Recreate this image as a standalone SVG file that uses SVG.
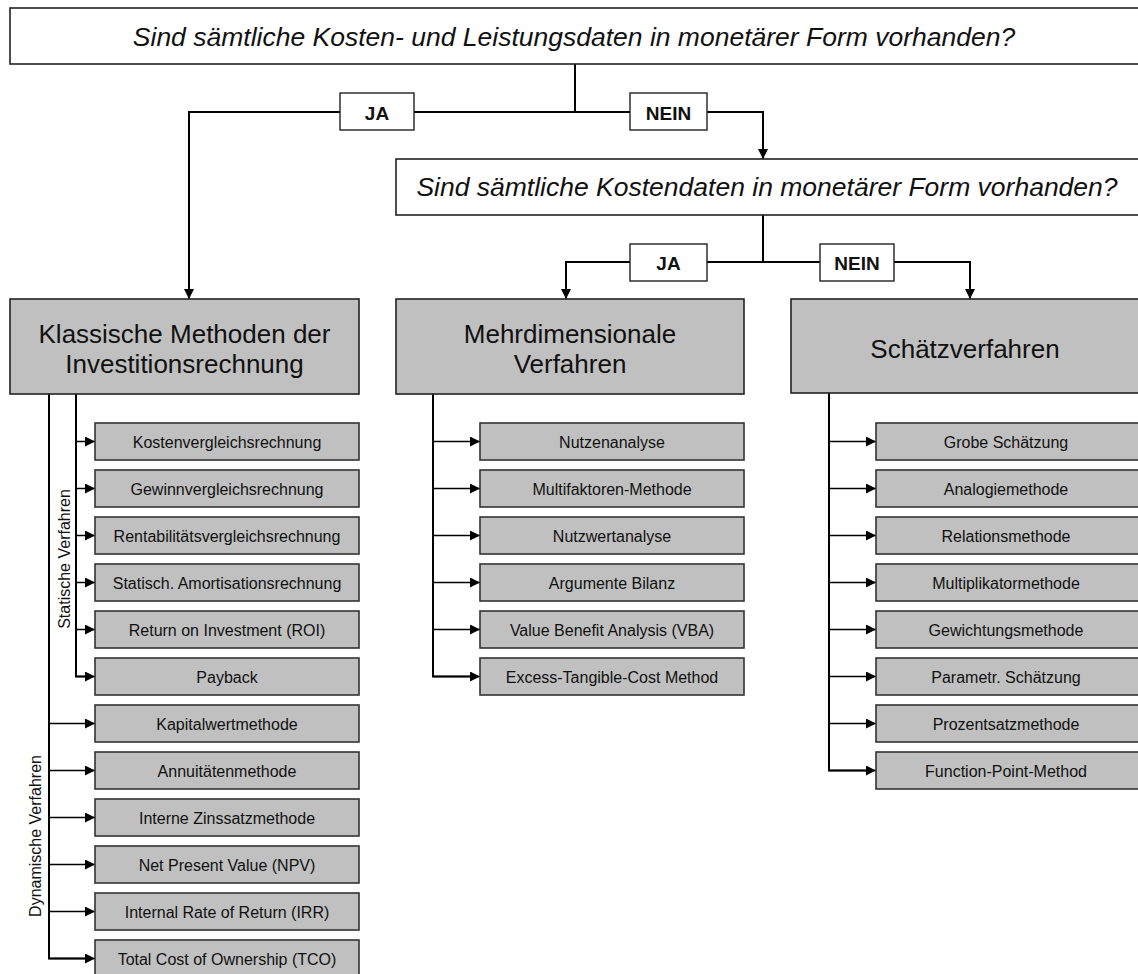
<svg xmlns="http://www.w3.org/2000/svg" width="1138" height="974" viewBox="0 0 1138 974">
  <style>
    text { font-family: "Liberation Sans", Arial, sans-serif; fill: #111; }
    .q { fill: #fff; stroke: #222; stroke-width: 1.6; }
    .q-t { font-size: 26.5px; font-style: italic; text-anchor: middle; }
    .lbl { fill: #fff; stroke: #222; stroke-width: 1.4; }
    .lbl-t { font-size: 19px; font-weight: bold; text-anchor: middle; }
    .cat { fill: #c0c0c0; stroke: #222; stroke-width: 1.6; }
    .cat-t { font-size: 26px; text-anchor: middle; }
    .item { fill: #c0c0c0; stroke: #333; stroke-width: 1.6; }
    .item-t { font-size: 16px; text-anchor: middle; }
    .side-t { font-size: 16px; text-anchor: middle; }
    .trunk { fill: none; stroke: #000; stroke-width: 2; }
    .branch { fill: none; stroke: #000; stroke-width: 1.5; }
  </style>
  <defs>
    <marker id="arrow" viewBox="0 0 10 10" refX="10" refY="5" markerWidth="10" markerHeight="10" markerUnits="userSpaceOnUse" orient="auto">
      <path d="M0,0 L10,5 L0,10 Z" fill="#000"/>
    </marker>
  </defs>

  <!-- connectors -->
  <g id="connectors">
    <!-- first decision -->
    <path class="trunk" d="M575,64 V112"/>
    <path class="trunk" d="M340,112 H189 V299" marker-end="url(#arrow)"/>
    <path class="trunk" d="M414,112 H630"/>
    <path class="trunk" d="M707,112 H763 V159" marker-end="url(#arrow)"/>
    <!-- second decision -->
    <path class="trunk" d="M763,215 V262"/>
    <path class="trunk" d="M630,262 H566 V299" marker-end="url(#arrow)"/>
    <path class="trunk" d="M707,262 H820"/>
    <path class="trunk" d="M894,262 H970 V299" marker-end="url(#arrow)"/>

    <!-- classical methods: static branch -->
    <path class="trunk" d="M76,394 V676.5 H86"/>
    <path class="branch" d="M76,441.5 H95" marker-end="url(#arrow)"/>
    <path class="branch" d="M76,488.5 H95" marker-end="url(#arrow)"/>
    <path class="branch" d="M76,535.5 H95" marker-end="url(#arrow)"/>
    <path class="branch" d="M76,582.5 H95" marker-end="url(#arrow)"/>
    <path class="branch" d="M76,629.5 H95" marker-end="url(#arrow)"/>
    <path class="branch" d="M76,676.5 H95" marker-end="url(#arrow)"/>
    <!-- classical methods: dynamic branch -->
    <path class="trunk" d="M49,394 V958.5 H86"/>
    <path class="branch" d="M49,723.5 H95" marker-end="url(#arrow)"/>
    <path class="branch" d="M49,770.5 H95" marker-end="url(#arrow)"/>
    <path class="branch" d="M49,817.5 H95" marker-end="url(#arrow)"/>
    <path class="branch" d="M49,864.5 H95" marker-end="url(#arrow)"/>
    <path class="branch" d="M49,911.5 H95" marker-end="url(#arrow)"/>
    <path class="branch" d="M49,958.5 H95" marker-end="url(#arrow)"/>

    <!-- multidimensional methods -->
    <path class="trunk" d="M433,394 V676.5 H470"/>
    <path class="branch" d="M433,441.5 H480" marker-end="url(#arrow)"/>
    <path class="branch" d="M433,488.5 H480" marker-end="url(#arrow)"/>
    <path class="branch" d="M433,535.5 H480" marker-end="url(#arrow)"/>
    <path class="branch" d="M433,582.5 H480" marker-end="url(#arrow)"/>
    <path class="branch" d="M433,629.5 H480" marker-end="url(#arrow)"/>
    <path class="branch" d="M433,676.5 H480" marker-end="url(#arrow)"/>

    <!-- estimation methods -->
    <path class="trunk" d="M829,393 V770.5 H866"/>
    <path class="branch" d="M829,441.5 H876" marker-end="url(#arrow)"/>
    <path class="branch" d="M829,488.5 H876" marker-end="url(#arrow)"/>
    <path class="branch" d="M829,535.5 H876" marker-end="url(#arrow)"/>
    <path class="branch" d="M829,582.5 H876" marker-end="url(#arrow)"/>
    <path class="branch" d="M829,629.5 H876" marker-end="url(#arrow)"/>
    <path class="branch" d="M829,676.5 H876" marker-end="url(#arrow)"/>
    <path class="branch" d="M829,723.5 H876" marker-end="url(#arrow)"/>
    <path class="branch" d="M829,770.5 H876" marker-end="url(#arrow)"/>
  </g>

  <!-- decisions -->
  <g id="q1">
    <rect class="q" x="10" y="8" width="1140" height="56"/>
    <text class="q-t" x="574" y="46">Sind sämtliche Kosten- und Leistungsdaten in monetärer Form vorhanden?</text>
  </g>
  <g id="q1-ja">
    <rect class="lbl" x="340" y="93" width="74" height="37"/>
    <text class="lbl-t" x="377" y="120">JA</text>
  </g>
  <g id="q1-nein">
    <rect class="lbl" x="630" y="93" width="77" height="37"/>
    <text class="lbl-t" x="668.5" y="120">NEIN</text>
  </g>
  <g id="q2">
    <rect class="q" x="396" y="159" width="760" height="56"/>
    <text class="q-t" x="767" y="196">Sind sämtliche Kostendaten in monetärer Form vorhanden?</text>
  </g>
  <g id="q2-ja">
    <rect class="lbl" x="630" y="244" width="77" height="37"/>
    <text class="lbl-t" x="668.5" y="270">JA</text>
  </g>
  <g id="q2-nein">
    <rect class="lbl" x="820" y="244" width="74" height="37"/>
    <text class="lbl-t" x="857" y="270">NEIN</text>
  </g>

  <!-- categories -->
  <g id="cat-klassisch">
    <rect class="cat" x="10" y="299" width="349" height="95"/>
    <text class="cat-t" x="184.5" y="343">Klassische Methoden der</text>
    <text class="cat-t" x="184.5" y="373">Investitionsrechnung</text>
  </g>
  <g id="cat-mehrdim">
    <rect class="cat" x="396" y="299" width="348" height="95"/>
    <text class="cat-t" x="570" y="343">Mehrdimensionale</text>
    <text class="cat-t" x="570" y="373">Verfahren</text>
  </g>
  <g id="cat-schaetz">
    <rect class="cat" x="791" y="299" width="360" height="94"/>
    <text class="cat-t" x="965" y="358">Schätzverfahren</text>
  </g>

  <!-- group labels -->
  <g id="label-statisch">
    <text class="side-t" transform="translate(70,559) rotate(-90)">Statische Verfahren</text>
  </g>
  <g id="label-dynamisch">
    <text class="side-t" transform="translate(41,836) rotate(-90)">Dynamische Verfahren</text>
  </g>

  <!-- classical method items -->
  <g id="k1"><rect class="item" x="95" y="423" width="264" height="37"/><text class="item-t" x="227" y="448">Kostenvergleichsrechnung</text></g>
  <g id="k2"><rect class="item" x="95" y="470" width="264" height="37"/><text class="item-t" x="227" y="495">Gewinnvergleichsrechnung</text></g>
  <g id="k3"><rect class="item" x="95" y="517" width="264" height="37"/><text class="item-t" x="227" y="542">Rentabilitätsvergleichsrechnung</text></g>
  <g id="k4"><rect class="item" x="95" y="564" width="264" height="37"/><text class="item-t" x="227" y="589">Statisch. Amortisationsrechnung</text></g>
  <g id="k5"><rect class="item" x="95" y="611" width="264" height="37"/><text class="item-t" x="227" y="636">Return on Investment (ROI)</text></g>
  <g id="k6"><rect class="item" x="95" y="658" width="264" height="37"/><text class="item-t" x="227" y="683">Payback</text></g>
  <g id="k7"><rect class="item" x="95" y="705" width="264" height="37"/><text class="item-t" x="227" y="730">Kapitalwertmethode</text></g>
  <g id="k8"><rect class="item" x="95" y="752" width="264" height="37"/><text class="item-t" x="227" y="777">Annuitätenmethode</text></g>
  <g id="k9"><rect class="item" x="95" y="799" width="264" height="37"/><text class="item-t" x="227" y="824">Interne Zinssatzmethode</text></g>
  <g id="k10"><rect class="item" x="95" y="846" width="264" height="37"/><text class="item-t" x="227" y="871">Net Present Value (NPV)</text></g>
  <g id="k11"><rect class="item" x="95" y="893" width="264" height="37"/><text class="item-t" x="227" y="918">Internal Rate of Return (IRR)</text></g>
  <g id="k12"><rect class="item" x="95" y="940" width="264" height="37"/><text class="item-t" x="227" y="965">Total Cost of Ownership (TCO)</text></g>

  <!-- multidimensional items -->
  <g id="m1"><rect class="item" x="480" y="423" width="264" height="37"/><text class="item-t" x="612" y="448">Nutzenanalyse</text></g>
  <g id="m2"><rect class="item" x="480" y="470" width="264" height="37"/><text class="item-t" x="612" y="495">Multifaktoren-Methode</text></g>
  <g id="m3"><rect class="item" x="480" y="517" width="264" height="37"/><text class="item-t" x="612" y="542">Nutzwertanalyse</text></g>
  <g id="m4"><rect class="item" x="480" y="564" width="264" height="37"/><text class="item-t" x="612" y="589">Argumente Bilanz</text></g>
  <g id="m5"><rect class="item" x="480" y="611" width="264" height="37"/><text class="item-t" x="612" y="636">Value Benefit Analysis (VBA)</text></g>
  <g id="m6"><rect class="item" x="480" y="658" width="264" height="37"/><text class="item-t" x="612" y="683">Excess-Tangible-Cost Method</text></g>

  <!-- estimation items -->
  <g id="s1"><rect class="item" x="876" y="423" width="270" height="37"/><text class="item-t" x="1006" y="448">Grobe Schätzung</text></g>
  <g id="s2"><rect class="item" x="876" y="470" width="270" height="37"/><text class="item-t" x="1006" y="495">Analogiemethode</text></g>
  <g id="s3"><rect class="item" x="876" y="517" width="270" height="37"/><text class="item-t" x="1006" y="542">Relationsmethode</text></g>
  <g id="s4"><rect class="item" x="876" y="564" width="270" height="37"/><text class="item-t" x="1006" y="589">Multiplikatormethode</text></g>
  <g id="s5"><rect class="item" x="876" y="611" width="270" height="37"/><text class="item-t" x="1006" y="636">Gewichtungsmethode</text></g>
  <g id="s6"><rect class="item" x="876" y="658" width="270" height="37"/><text class="item-t" x="1006" y="683">Parametr. Schätzung</text></g>
  <g id="s7"><rect class="item" x="876" y="705" width="270" height="37"/><text class="item-t" x="1006" y="730">Prozentsatzmethode</text></g>
  <g id="s8"><rect class="item" x="876" y="752" width="270" height="37"/><text class="item-t" x="1006" y="777">Function-Point-Method</text></g>
</svg>
